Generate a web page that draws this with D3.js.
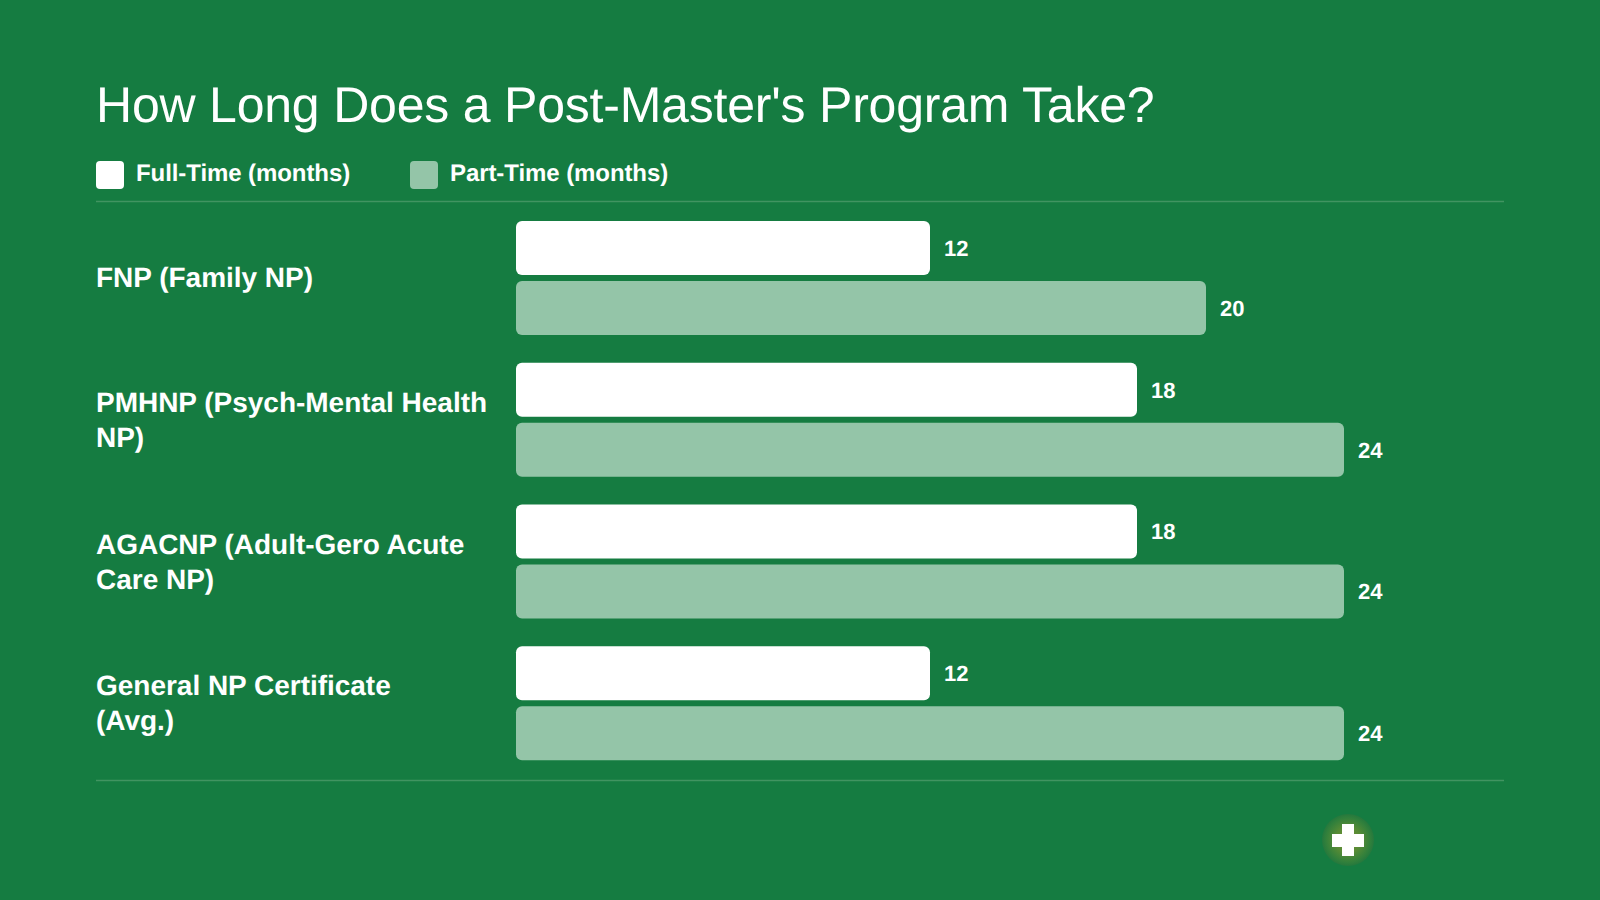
<!DOCTYPE html>
<html><head><meta charset="utf-8">
<script src="https://cdn.jsdelivr.net/npm/d3@7"></script>
<style>html,body{margin:0;padding:0;background:#157c41;overflow:hidden}svg{display:block;font-family:"Liberation Sans",Arial,sans-serif;text-rendering:geometricPrecision}</style>
</head><body><svg id="c" width="1600" height="900"></svg>
<script>
const titleText = "How Long Does a Post-Master's Program Take?";
const categories = [["FNP (Family NP)"],["PMHNP (Psych-Mental Health","NP)"],["AGACNP (Adult-Gero Acute","Care NP)"],["General NP Certificate","(Avg.)"]];
const seriesNames = ["Full-Time (months)","Part-Time (months)"];
const fullTime = [12,18,18,12];
const partTime = [20,24,24,24];
const colors = ["#ffffff","#94c5a8"];

const svg = d3.select("#c");
svg.append("rect").attr("width",1600).attr("height",900).attr("fill","#157c41");
const grad = svg.append("defs").append("radialGradient").attr("id","glow");
[["0%","#6f8f33"],["50%","#578b36"],["88%","#2f7f3c"],["100%","#25783d"]].forEach(([o,c])=>grad.append("stop").attr("offset",o).attr("stop-color",c));

svg.append("text").attr("x",96).attr("y",122).attr("fill","#fff").attr("font-size",50).attr("letter-spacing",-0.21).text(titleText);

// legend
const legendX = [96,410];
seriesNames.forEach((n,i)=>{
  svg.append("rect").attr("x",legendX[i]).attr("y",161).attr("width",28).attr("height",28).attr("rx",4).attr("fill",colors[i]);
  svg.append("text").attr("x",legendX[i]+40).attr("y",181).attr("fill","#fff").attr("font-size",24).attr("font-weight",700).attr("letter-spacing",-0.08).text(n);
});

// rules
[201,780].forEach(v=>svg.append("line").attr("x1",96).attr("x2",1504).attr("y1",v+0.5).attr("y2",v+0.5).attr("stroke","#419461").attr("stroke-width",1.5));

const x = d3.scaleLinear().domain([0,24]).range([516,1344]);
const y = d3.scaleBand().domain(d3.range(categories.length)).range([207,774]);
const sub = d3.scaleBand().domain([0,1]).range([14,128]).paddingInner(0.1);

const rows = svg.selectAll("g.row").data(categories).join("g").attr("class","row").attr("transform",(d,i)=>`translate(0,${y(i)})`);
rows.each(function(lines,i){
  const g = d3.select(this);
  const cy = lines.length===1 ? 80.3 : 63.2;
  lines.forEach((l,j)=>g.append("text").attr("x",96).attr("y",cy+j*35).attr("fill","#fff").attr("font-size",28).attr("font-weight",700).attr("letter-spacing",-0.02).text(l));
  [fullTime[i],partTime[i]].forEach((v,k)=>{
    g.append("rect").attr("x",x(0)).attr("y",sub(k)).attr("width",x(v)-x(0)).attr("height",sub.bandwidth()).attr("rx",6).attr("fill",colors[k]);
    g.append("text").attr("x",x(v)+14).attr("y",sub(k)+sub.bandwidth()/2+7.8).attr("fill","#fff").attr("font-size",22).attr("font-weight",700).text(v);
  });
});

// badge
svg.append("circle").attr("cx",1348).attr("cy",840).attr("r",26).attr("fill","url(#glow)");
svg.append("rect").attr("x",1332).attr("y",834).attr("width",32).attr("height",13).attr("fill","#fff");
svg.append("rect").attr("x",1342).attr("y",824).attr("width",12).attr("height",32).attr("fill","#fff");
</script></body></html>
